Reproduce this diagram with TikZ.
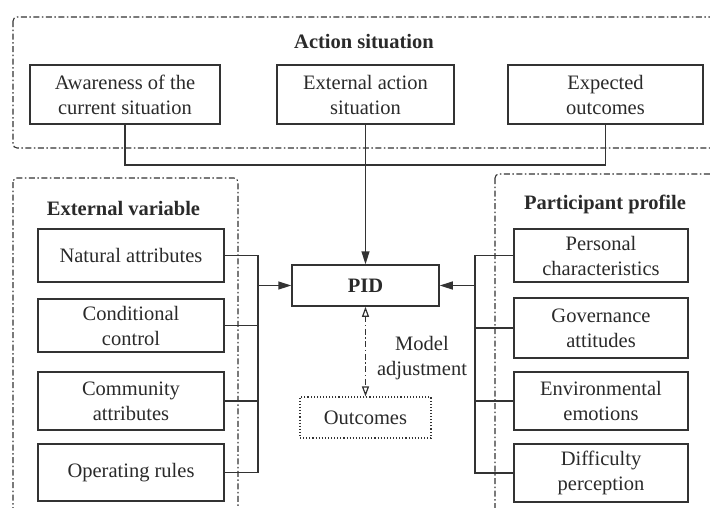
\documentclass[tikz,border=0pt]{standalone}
\usepackage{fontspec}
\setmainfont{Liberation Serif}
\usetikzlibrary{arrows.meta}
\definecolor{ln}{HTML}{333333}
\definecolor{tx}{HTML}{2A2A2A}
\begin{document}
\begin{tikzpicture}[x=1pt,y=-1pt,
  every node/.style={text=tx,font=\rmfamily\fontsize{20.5pt}{25pt}\selectfont},
  box/.style={draw=ln,line width=1.5pt,align=center,inner sep=0pt},
  grp/.style={draw=ln,line width=1.1pt,rounded corners=4pt,dash pattern=on 6pt off 2.5pt on 1.5pt off 2.5pt},
  conn/.style={draw=ln,line width=1.5pt},
  arr/.style={conn,-{Triangle[length=13pt,width=8pt]}},
  ttl/.style={font=\rmfamily\fontsize{20.5pt}{25pt}\selectfont\bfseries}]
\clip (0,0) rectangle (710,507);
% group frames
\draw[grp] (13,17) rectangle (725,148);
\draw[grp] (13,178) rectangle (238,525);
\draw[grp] (495,174) rectangle (725,525);
% titles
\node[ttl] (t1) at (364,42) {Action situation};
\node[ttl] (t2) at (123.5,208) {External variable};
\node[ttl] (t3) at (605,204) {Participant profile};
% top boxes
\node[box,minimum width=190pt,minimum height=59pt] (aw) at (125,94.5) {Awareness of the\\current situation};
\node[box,minimum width=177pt,minimum height=59pt] (ext) at (365.5,94.5) {External action\\situation};
\node[box,minimum width=195pt,minimum height=59pt] (exp) at (605.5,94.5) {Expected\\outcomes};
% center
\node[box,minimum width=147pt,minimum height=41pt,font=\rmfamily\fontsize{20.5pt}{25pt}\selectfont\bfseries] (pid) at (365.5,285.5) {PID};
\node[draw=ln,line width=1.1pt,dotted,minimum width=131pt,minimum height=41pt,inner sep=0pt] (out) at (365.5,417.5) {Outcomes};
\node[align=center] (ma) at (422,358.5) {Model\\adjustment};
% left boxes
\node[box,minimum width=186pt,minimum height=53pt] (nat) at (131,255.5) {Natural attributes};
\node[box,minimum width=186pt,minimum height=53pt] (cond) at (131,325.5) {Conditional\\control};
\node[box,minimum width=186pt,minimum height=58pt] (comm) at (131,401) {Community\\attributes};
\node[box,minimum width=186pt,minimum height=57pt] (oper) at (131,472.5) {Operating rules};
% right boxes
\node[box,minimum width=174pt,minimum height=53pt] (pers) at (601,255.5) {Personal\\characteristics};
\node[box,minimum width=174pt,minimum height=60pt] (gov) at (601,328) {Governance\\attitudes};
\node[box,minimum width=174pt,minimum height=58pt] (env) at (601,401) {Environmental\\emotions};
\node[box,minimum width=174pt,minimum height=58pt] (diff) at (601,473) {Difficulty\\perception};
% buses
\coordinate (tb) at (365.5,165);
\coordinate (lb) at (258,286);
\coordinate (rb) at (475,286);
\draw[conn] (aw.south) |- (tb) -| (exp.south);
\draw[arr] (ext.south) -- (pid.north);
\draw[conn] (nat.east) -- (nat.east -| lb) -- (oper.east -| lb) -- (oper.east);
\draw[conn] (cond.east) -- (cond.east -| lb);
\draw[conn] (comm.east) -- (comm.east -| lb);
\draw[arr] (lb |- pid.west) -- (pid.west);
\draw[conn] (pers.west) -- (pers.west -| rb) -- (diff.west -| rb) -- (diff.west);
\draw[conn] (gov.west) -- (gov.west -| rb);
\draw[conn] (env.west) -- (env.west -| rb);
\draw[arr] (rb |- pid.east) -- (pid.east);
\draw[draw=ln,line width=1.2pt,dash pattern=on 6pt off 2.5pt on 1.5pt off 2.5pt,
  {Triangle[open,length=10pt,width=7pt]}-{Triangle[open,length=10pt,width=7pt]}] (pid.south) -- (out.north);
\end{tikzpicture}
\end{document}
